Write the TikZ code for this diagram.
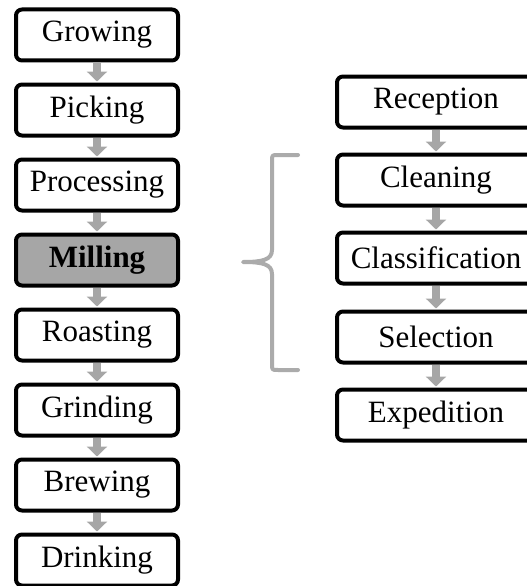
\documentclass[tikz,border=0pt]{standalone}
\usepackage{fontspec}
\setmainfont{Liberation Serif}
\usetikzlibrary{arrows.meta}
\definecolor{arrowgray}{HTML}{A6A6A6}
\definecolor{bracegray}{HTML}{ABABAB}
\definecolor{millfill}{HTML}{A6A6A6}
\tikzset{
  stepbox/.style={draw=black, line width=4pt, rounded corners=6pt, fill=white,
    minimum width=162pt, minimum height=51pt, inner sep=0pt,
    font=\fontsize{31}{31}\selectfont, text=black},
  rightbox/.style={stepbox, minimum width=198pt},
  flowarrow/.style={draw=arrowgray, line width=8pt,
    -{Triangle[width=20pt,length=10pt]}, shorten >=1pt},
}
\begin{document}
\begin{tikzpicture}[x=1pt,y=-1pt]
\useasboundingbox (0,0) rectangle (527,586);
% left column
\node[stepbox] (g1) at (97,35) {Growing};
\node[stepbox] (g2) at (97,110) {Picking};
\node[stepbox] (g3) at (97,185) {Processing};
\node[stepbox, fill=millfill, font=\fontsize{31}{31}\selectfont\bfseries] (g4) at (97,260) {Milling};
\node[stepbox] (g5) at (97,335) {Roasting};
\node[stepbox] (g6) at (97,410) {Grinding};
\node[stepbox] (g7) at (97,485) {Brewing};
\node[stepbox] (g8) at (97,560) {Drinking};
\foreach \a/\b in {g1/g2,g2/g3,g3/g4,g4/g5,g5/g6,g6/g7,g7/g8}
  \draw[flowarrow] (\a.south) -- (\b.north);
% right column
\node[rightbox] (r1) at (436,102) {Reception};
\node[rightbox] (r2) at (436,180) {Cleaning};
\node[rightbox] (r3) at (436,258) {Classification};
\node[rightbox] (r4) at (436,337) {Selection};
\node[rightbox] (r5) at (436,415) {Expedition};
\foreach \a/\b in {r1/r2,r2/r3,r3/r4,r4/r5}
  \draw[flowarrow] (\a.south) -- (\b.north);
% brace
\coordinate (bt) at (298,155);
\coordinate (bm) at (243,262);
\coordinate (bb) at (298,370);
\draw[bracegray, line width=4pt, line cap=round, line join=round]
  (bt) -- (278,155) .. controls (272,155) .. (272,161)
  -- (272,250) .. controls (272,260) and (262,262) .. (bm)
  .. controls (262,262) and (272,264) .. (272,274)
  -- (272,364) .. controls (272,370) .. (278,370) -- (bb);
\end{tikzpicture}
\end{document}
